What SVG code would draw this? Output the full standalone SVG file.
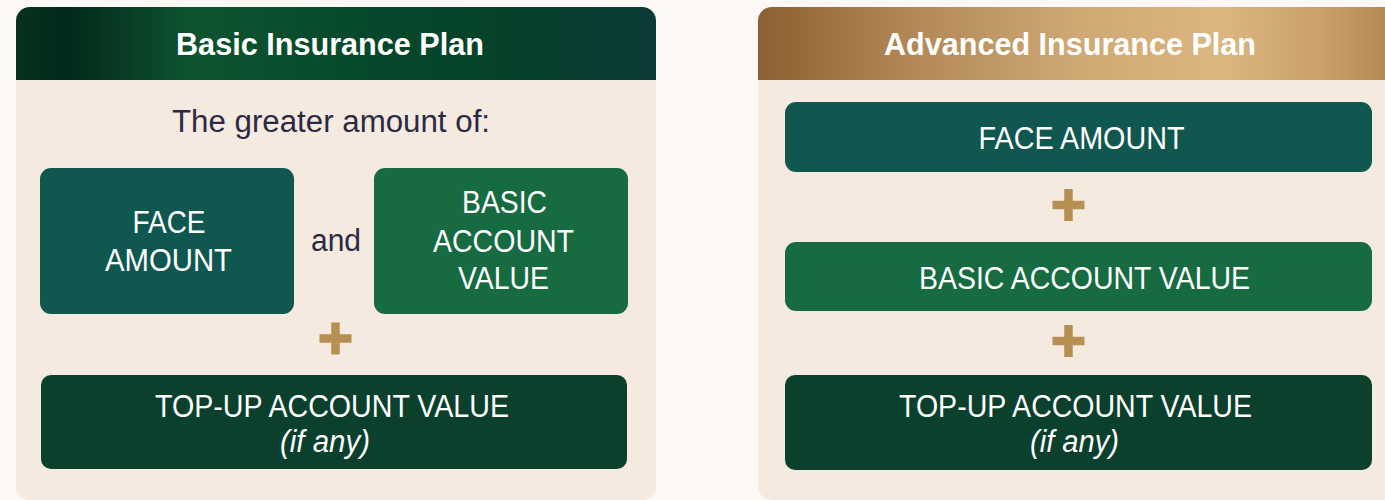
<svg xmlns="http://www.w3.org/2000/svg" width="1385" height="500" viewBox="0 0 1385 500">
  <defs>
    <linearGradient id="gradBasic" x1="16" y1="0" x2="656" y2="0" gradientUnits="userSpaceOnUse">
      <stop offset="0" stop-color="#06311f"/>
      <stop offset="0.08" stop-color="#02281a"/>
      <stop offset="0.28" stop-color="#0e5430"/>
      <stop offset="0.55" stop-color="#06482b"/>
      <stop offset="0.75" stop-color="#054229"/>
      <stop offset="1" stop-color="#0a3a37"/>
    </linearGradient>
    <linearGradient id="gradAdvanced" x1="758" y1="0" x2="1398" y2="0" gradientUnits="userSpaceOnUse">
      <stop offset="0" stop-color="#8b6032"/>
      <stop offset="0.25" stop-color="#b38a57"/>
      <stop offset="0.5" stop-color="#cfa874"/>
      <stop offset="0.72" stop-color="#dcb680"/>
      <stop offset="0.88" stop-color="#c9a06b"/>
      <stop offset="1" stop-color="#b08752"/>
    </linearGradient>
    <symbol id="plus" viewBox="-16 -16 32 32" overflow="visible">
      <rect x="-16" y="-4.25" width="32" height="8.5" fill="#b88f52"/>
      <rect x="-4.25" y="-16" width="8.5" height="32" fill="#b88f52"/>
    </symbol>
  </defs>
  <style>
    .panel { fill: #f5eadf; }
    .title { font-family: "Liberation Sans", Arial, sans-serif; font-weight: 700; font-size: 31px; fill: #ffffff; text-anchor: middle; }
    .note { font-family: "Liberation Sans", Arial, sans-serif; font-size: 31px; fill: #2b2a42; text-anchor: middle; }
    .label { font-family: "Liberation Sans", Arial, sans-serif; font-size: 32px; fill: #ffffff; text-anchor: middle; }
    .sub { font-family: "Liberation Sans", Arial, sans-serif; font-style: italic; font-size: 31px; fill: #ffffff; text-anchor: middle; }
    .face { fill: #0f574f; }
    .basic { fill: #166b40; }
    .topup { fill: #0a402c; }
  </style>

  <!-- page background -->
  <rect width="1385" height="500" fill="#fdf8f3"/>

  <!-- Basic plan card -->
  <g id="basic-plan">
    <rect class="panel" x="16" y="7" width="640" height="493" rx="14"/>
    <path d="M16,80 V21 A14,14 0 0 1 30,7 H642 A14,14 0 0 1 656,21 V80 Z" fill="url(#gradBasic)"/>
    <text class="title" x="330" y="55" textLength="308" lengthAdjust="spacingAndGlyphs">Basic Insurance Plan</text>
    <text class="note" x="331" y="132" textLength="318" lengthAdjust="spacingAndGlyphs">The greater amount of:</text>
  </g>

  <g id="basic-face-amount">
    <rect class="face" x="40" y="168" width="254" height="146" rx="11"/>
    <text class="label" x="169" y="233" textLength="73" lengthAdjust="spacingAndGlyphs">FACE</text>
    <text class="label" x="168.5" y="271" textLength="127" lengthAdjust="spacingAndGlyphs">AMOUNT</text>
  </g>

  <g id="basic-and">
    <text class="note" x="336" y="251" textLength="50" lengthAdjust="spacingAndGlyphs">and</text>
  </g>

  <g id="basic-account-value">
    <rect class="basic" x="374" y="168" width="254" height="146" rx="11"/>
    <text class="label" x="504.5" y="213" textLength="85" lengthAdjust="spacingAndGlyphs">BASIC</text>
    <text class="label" x="503.5" y="252" textLength="141" lengthAdjust="spacingAndGlyphs">ACCOUNT</text>
    <text class="label" x="503.5" y="288.5" textLength="91" lengthAdjust="spacingAndGlyphs">VALUE</text>
  </g>

  <g id="basic-plus">
    <use href="#plus" x="319.5" y="322.5" width="32" height="32"/>
  </g>

  <g id="basic-topup">
    <rect class="topup" x="41" y="375" width="586" height="94" rx="10"/>
    <text class="label" x="332" y="416.5" textLength="354" lengthAdjust="spacingAndGlyphs">TOP-UP ACCOUNT VALUE</text>
    <text class="sub" x="325" y="452" textLength="90" lengthAdjust="spacingAndGlyphs">(if any)</text>
  </g>

  <!-- Advanced plan card -->
  <g id="advanced-plan">
    <rect class="panel" x="758" y="7" width="640" height="493" rx="14"/>
    <path d="M758,80 V21 A14,14 0 0 1 772,7 H1384 A14,14 0 0 1 1398,21 V80 Z" fill="url(#gradAdvanced)"/>
    <text class="title" x="1070" y="55" textLength="372" lengthAdjust="spacingAndGlyphs">Advanced Insurance Plan</text>
  </g>

  <g id="advanced-face-amount">
    <rect class="face" x="785" y="102" width="587" height="70" rx="11"/>
    <text class="label" x="1081.5" y="148.5" textLength="206" lengthAdjust="spacingAndGlyphs">FACE AMOUNT</text>
  </g>

  <g id="advanced-plus-1">
    <use href="#plus" x="1052.5" y="189" width="32" height="32"/>
  </g>

  <g id="advanced-account-value">
    <rect class="basic" x="785" y="242" width="587" height="69" rx="11"/>
    <text class="label" x="1084.5" y="288.5" textLength="331" lengthAdjust="spacingAndGlyphs">BASIC ACCOUNT VALUE</text>
  </g>

  <g id="advanced-plus-2">
    <use href="#plus" x="1052.5" y="325" width="32" height="32"/>
  </g>

  <g id="advanced-topup">
    <rect class="topup" x="785" y="375" width="587" height="95" rx="10"/>
    <text class="label" x="1075.5" y="416.5" textLength="353" lengthAdjust="spacingAndGlyphs">TOP-UP ACCOUNT VALUE</text>
    <text class="sub" x="1074.5" y="452" textLength="89" lengthAdjust="spacingAndGlyphs">(if any)</text>
  </g>

  <!-- no connectors: the cards are linked only by the plus signs -->
  <g id="connectors"/>
</svg>
